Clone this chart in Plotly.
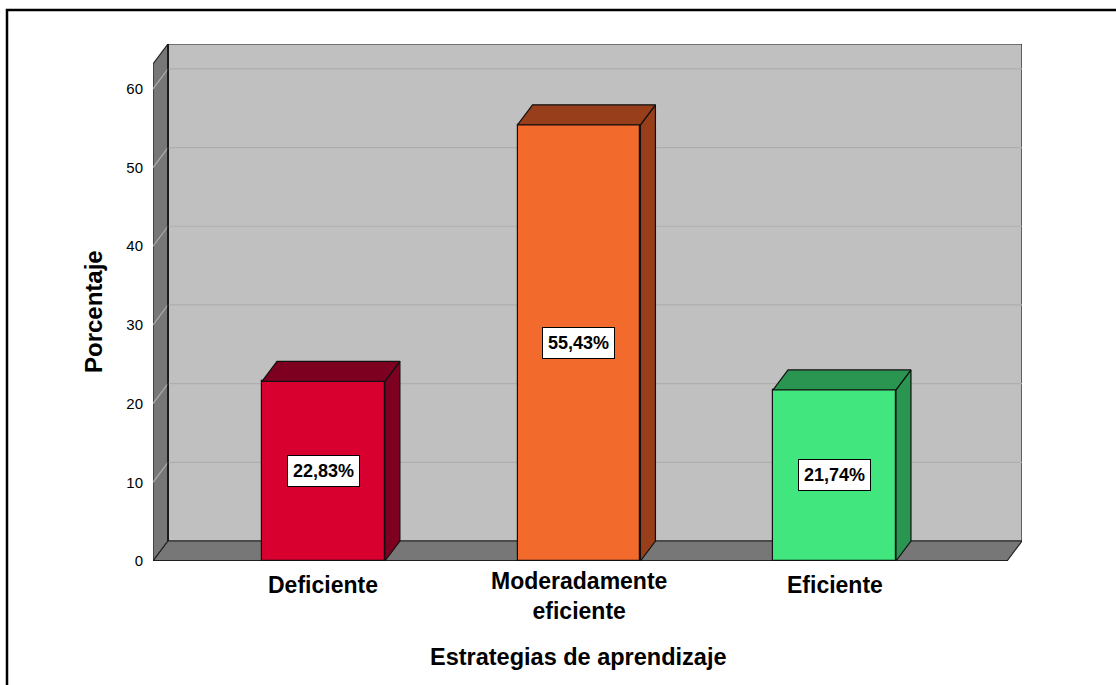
import plotly.graph_objects as go

# ---- data ----
categories = ["Deficiente", "Moderadamente<br>eficiente", "Eficiente"]
percentages = [22.83, 55.43, 21.74]
value_labels = ["22,83%", "55,43%", "21,74%"]
front_colors = ["#D7002F", "#F26A2C", "#41E67E"]
dark_colors = ["#7E0020", "#983E1A", "#2A9551"]
y_ticks = [0, 10, 20, 30, 40, 50, 60]

# ---- geometry (data units) ----
W, H = 1116, 685
ML, MR, MT, MB = 153, 94, 44, 124
X0, X1 = -0.667, 2.675          # front-plane floor extent
DDX, DDY = 0.0587, 2.54         # depth offset of the back plane
YTOP = 65.7                     # top of back wall
BW = 0.481                      # bar width

fig = go.Figure()

shapes = []
def poly(pts, fill, line="#222222", lw=1.2, layer="below"):
    path = "M " + " L ".join(f"{x},{y}" for x, y in pts) + " Z"
    shapes.append(dict(type="path", path=path, xref="x", yref="y",
                       fillcolor=fill, line=dict(color=line, width=lw), layer=layer))

# back wall
poly([(X0 + DDX, DDY), (X1 + DDX, DDY), (X1 + DDX, YTOP), (X0 + DDX, YTOP)], "#C0C0C0")
# left side wall
poly([(X0, 0), (X0 + DDX, DDY), (X0 + DDX, YTOP), (X0, YTOP - DDY)], "#777777")
# floor
poly([(X0, 0), (X1, 0), (X1 + DDX, DDY), (X0 + DDX, DDY)], "#777777")

# gridlines on walls
for v in y_ticks[1:]:
    shapes.append(dict(type="line", xref="x", yref="y", x0=X0 + DDX, x1=X1 + DDX,
                       y0=v + DDY, y1=v + DDY, line=dict(color="#AEAEAE", width=1.2), layer="below"))
    shapes.append(dict(type="line", xref="x", yref="y", x0=X0, x1=X0 + DDX,
                       y0=v, y1=v + DDY, line=dict(color="#ABABAB", width=1.2), layer="below"))
# redraw wall edges
shapes.append(dict(type="line", xref="x", yref="y", x0=X0 + DDX, x1=X0 + DDX, y0=DDY, y1=YTOP,
                   line=dict(color="#111111", width=1.5), layer="below"))
shapes.append(dict(type="line", xref="x", yref="y", x0=X0, x1=X1, y0=0, y1=0,
                   line=dict(color="#111111", width=1.5), layer="below"))

# outer frame (paper coords)
pw = W - ML - MR
ph = H - MT - MB
def px_to_paper_x(px): return (px - ML) / pw
def px_to_paper_y(py): return (H - MB - py) / ph
shapes.append(dict(type="rect", xref="paper", yref="paper",
                   x0=px_to_paper_x(7), x1=px_to_paper_x(1200),
                   y0=px_to_paper_y(800), y1=px_to_paper_y(10),
                   line=dict(color="#000000", width=2.5), fillcolor="rgba(0,0,0,0)", layer="above"))

# bar 3D faces (top + side) as polygons in data coords
for i, v in enumerate(percentages):
    l, r = i - BW / 2, i + BW / 2
    top = [(l, v), (r, v), (r + DDX, v + DDY), (l + DDX, v + DDY), (l, v)]
    side = [(r, 0), (r + DDX, DDY), (r + DDX, v + DDY), (r, v), (r, 0)]
    for pts in (side, top):
        fig.add_trace(go.Scatter(x=[p[0] for p in pts], y=[p[1] for p in pts],
                                 mode="lines", fill="toself", fillcolor=dark_colors[i],
                                 line=dict(color="#111111", width=1.2),
                                 hoverinfo="skip", showlegend=False))

# front faces
fig.add_trace(go.Bar(x=list(range(len(percentages))), y=percentages, width=BW,
                     marker=dict(color=front_colors, line=dict(color="#111111", width=1.2)),
                     showlegend=False))

annotations = []
for i, v in enumerate(percentages):
    annotations.append(dict(x=i, y=v / 2, xref="x", yref="y", text=value_labels[i],
                            showarrow=False, bgcolor="#FFFFFF", bordercolor="#000000",
                            borderwidth=1, borderpad=5,
                            font=dict(family="Liberation Sans Narrow, Arial Narrow, Liberation Sans, Arial",
                                      size=18, color="#000000", weight="bold")))

# category labels
for i, cat in enumerate(categories):
    n_lines = len(cat.split("<br>"))
    annotations.append(dict(x=i, y=px_to_paper_y(585 + 11 * (n_lines - 1)), xref="x", yref="paper",
                            text=f"<b>{cat}</b>", showarrow=False,
                            xanchor="center", yanchor="middle",
                            font=dict(family="Liberation Sans, Arial", size=23, color="#000000")))

annotations.append(dict(x=px_to_paper_x(93), y=px_to_paper_y(312), xref="paper", yref="paper",
                        text="<b>Porcentaje</b>", textangle=-90, showarrow=False,
                        xanchor="center", yanchor="middle",
                        font=dict(family="Liberation Sans, Arial", size=24, color="#000000")))
annotations.append(dict(x=px_to_paper_x(578), y=px_to_paper_y(657), xref="paper", yref="paper",
                        text="<b>Estrategias de aprendizaje</b>", showarrow=False,
                        xanchor="center", yanchor="middle",
                        font=dict(family="Liberation Sans, Arial", size=23.5, color="#000000")))

fig.update_layout(
    width=W, height=H, autosize=False,
    margin=dict(l=ML, r=MR, t=MT, b=MB),
    paper_bgcolor="#FFFFFF", plot_bgcolor="rgba(0,0,0,0)",
    shapes=shapes, annotations=annotations,
    xaxis=dict(range=[X0, X1 + DDX], tickvals=list(range(len(categories))),
               showticklabels=False,
               showgrid=False, zeroline=False, showline=False, ticks="",
               fixedrange=True),
    yaxis=dict(range=[0, YTOP], tickvals=y_ticks, showgrid=False, zeroline=False,
               showline=False, ticks="", ticklabelstandoff=9,
               tickfont=dict(family="Liberation Sans, Arial", size=15, color="#000000"),
               fixedrange=True),
    bargap=0,
)

fig.write_html("out.html")
